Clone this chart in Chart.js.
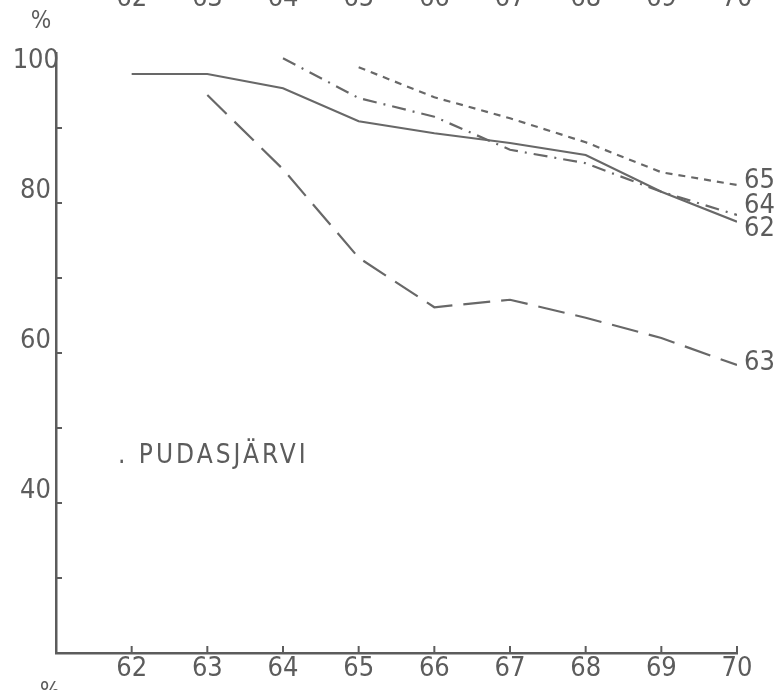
<!DOCTYPE html>
<html>
<head>
<meta charset="utf-8">
<script src="https://cdn.jsdelivr.net/npm/chart.js@4/dist/chart.umd.min.js"></script>
<style>
  html, body { margin: 0; padding: 0; background: #ffffff; }
  #wrap { width: 781px; height: 690px; position: relative; }
</style>
</head>
<body>
<div id="wrap"><canvas id="c" width="781" height="690"></canvas></div>
<script>
// Years on the horizontal axis
const years = [62, 63, 64, 65, 66, 67, 68, 69, 70];

// Share (%) remaining for each starting cohort, by year
const cohort62 = [97.2, 97.2, 95.3, 90.9, 89.3, 88.0, 86.4, 81.5, 77.5];
const cohort63 = [null, 94.4, 84.5, 72.7, 66.1, 67.1, 64.7, 62.0, 58.4];
const cohort64 = [null, null, 99.3, 94.0, 91.5, 87.1, 85.3, 81.5, 78.4];
const cohort65 = [null, null, null, 98.1, 94.1, 91.3, 88.1, 84.1, 82.4];

// Cohort names written at the line ends
const cohortNames = ['62', '63', '64', '65'];

// Labelled y values (100 is lettered separately, just below the axis top)
const yLabelled = [40, 60, 80];
const yTopLabel = '100';

// Year numbers of the neighbouring figure, cut off at the top edge
const topRowYears = [62, 63, 64, 65, 66, 67, 68, 69, 70];

const INK = '#5c5c5c';
const LINE = '#686868';
const FONT = "'DejaVu Sans Condensed', 'Liberation Sans Narrow', sans-serif";
const SIZE = 27;

function toPoints(values) {
  const pts = [];
  values.forEach((v, i) => { if (v !== null) pts.push({ x: years[i], y: v }); });
  return pts;
}

// Inward tick marks, end labels and free text
const decorations = {
  id: 'decorations',
  afterDraw(chart) {
    const ctx = chart.ctx;
    const xs = chart.scales.x, ys = chart.scales.y;
    const area = chart.chartArea;
    ctx.save();
    ctx.strokeStyle = INK;
    ctx.lineWidth = 2;
    // y ticks every 10, pointing right
    for (let v = 30; v <= 90; v += 10) {
      const py = ys.getPixelForValue(v);
      ctx.beginPath();
      ctx.moveTo(area.left, py);
      ctx.lineTo(area.left + 6, py);
      ctx.stroke();
    }
    // x ticks at every year, pointing up
    years.forEach(yr => {
      const px = xs.getPixelForValue(yr);
      ctx.beginPath();
      ctx.moveTo(px, area.bottom);
      ctx.lineTo(px, area.bottom - 7);
      ctx.stroke();
    });

    ctx.fillStyle = INK;
    ctx.font = SIZE + 'px ' + FONT;
    ctx.textBaseline = 'middle';
    ctx.textAlign = 'left';
    // cohort names at the right end of each line
    const nameShift = { '62': 7, '63': -2, '64': -9, '65': -4 };
    chart.data.datasets.forEach((ds, i) => {
      const meta = chart.getDatasetMeta(i);
      const last = meta.data[meta.data.length - 1];
      const name = cohortNames[i];
      ctx.fillText(name, last.x + 7, last.y + nameShift[name]);
    });

    // top value of the y axis
    ctx.textAlign = 'right';
    ctx.fillText(yTopLabel, area.left + 3, ys.getPixelForValue(100) + 8);

    // place name
    ctx.textAlign = 'left';
    ctx.font = '26px ' + FONT;
    ctx.letterSpacing = '3px';
    ctx.fillText('. PUDASJÄRVI', area.left + 62, 456);
    ctx.letterSpacing = '0px';

    // percent signs
    ctx.font = '24px ' + FONT;
    ctx.textAlign = 'center';
    ctx.fillText('%', 41, 22);
    ctx.textBaseline = 'top';
    ctx.fillText('%', 50, 681);

    // clipped year row of the figure above
    ctx.font = SIZE + 'px ' + FONT;
    ctx.textBaseline = 'alphabetic';
    topRowYears.forEach(yr => {
      ctx.fillText(String(yr), xs.getPixelForValue(yr), 6);
    });
    ctx.restore();
  }
};

const lineStyle = (dash) => ({
  borderColor: LINE,
  borderWidth: 2.2,
  borderDash: dash,
  pointRadius: 0,
  fill: false,
  tension: 0,
  spanGaps: false
});

new Chart(document.getElementById('c'), {
  type: 'line',
  data: {
    datasets: [
      Object.assign({ label: cohortNames[0], data: toPoints(cohort62) }, lineStyle([])),
      Object.assign({ label: cohortNames[1], data: toPoints(cohort63) }, lineStyle([27, 11])),
      Object.assign({ label: cohortNames[2], data: toPoints(cohort64) }, lineStyle([14, 7, 2, 7])),
      Object.assign({ label: cohortNames[3], data: toPoints(cohort65) }, lineStyle([7, 6]))
    ]
  },
  options: {
    responsive: false,
    animation: false,
    devicePixelRatio: 1,
    layout: { padding: { top: 53, right: 44, left: 0, bottom: 0 } },
    plugins: { legend: { display: false }, tooltip: { enabled: false } },
    scales: {
      x: {
        type: 'linear',
        min: 61,
        max: 70,
        afterFit(scale) { scale.height = 37; },
        grid: { display: false, drawTicks: false },
        border: { display: true, color: INK, width: 2.5 },
        ticks: {
          stepSize: 1,
          padding: 0,
          color: INK,
          font: { family: FONT, size: SIZE },
          maxRotation: 0,
          autoSkip: false,
          callback: (v) => (years.includes(v) ? String(v) : '')
        }
      },
      y: {
        type: 'linear',
        min: 20,
        max: 100,
        afterFit(scale) { scale.width = 56; },
        grid: { display: false, drawTicks: false },
        border: { display: true, color: INK, width: 2.5 },
        ticks: {
          stepSize: 10,
          padding: 5,
          labelOffset: -12,
          color: INK,
          font: { family: FONT, size: SIZE },
          callback: (v) => (yLabelled.includes(v) ? String(v) : '')
        }
      }
    }
  },
  plugins: [decorations]
});
</script>
</body>
</html>
